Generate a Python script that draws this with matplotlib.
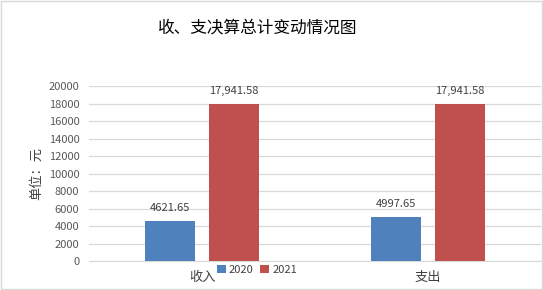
import numpy as np
import matplotlib
matplotlib.use('Agg')
import matplotlib.pyplot as plt
from matplotlib.patches import Rectangle

plt.rcParams['font.family'] = ['Noto Sans CJK SC', 'DejaVu Sans']

# data
categories = ['收入', '支出']
years = ['2020', '2021']
values_2020 = [4621.65, 4997.65]
values_2021 = [17941.58, 17941.58]
labels_2020 = ['4621.65', '4997.65']
labels_2021 = ['17,941.58', '17,941.58']
yticks = list(range(0, 20001, 2000))

fig = plt.figure(figsize=(5.43, 2.9), dpi=100)
ax = fig.add_axes([0.164, 0.1, 0.832, 0.603])

x = np.arange(len(categories))
w = 0.221
off = 0.1416
b1 = ax.bar(x - off, values_2020, w, color='#4F81BD', label=years[0], zorder=3)
b2 = ax.bar(x + off, values_2021, w, color='#C0504D', label=years[1], zorder=3)

for bars, labs in ((b1, labels_2020), (b2, labels_2021)):
    for b, lab in zip(bars, labs):
        ax.text(b.get_x() + b.get_width() / 2, b.get_height() + 900, lab,
                ha='center', va='bottom', fontsize=8, color='#404040')

ax.set_xlim(-0.5, 1.5)
ax.set_ylim(0, 20000)
ax.set_yticks(yticks)
ax.set_yticklabels([str(t) for t in yticks], fontsize=8, color='#595959')
ax.set_xticks(x)
ax.set_xticklabels(categories, fontsize=9.5, color='#404040')
ax.tick_params(axis='both', length=0)
ax.tick_params(axis='x', pad=7)
ax.tick_params(axis='y', pad=7)
ax.grid(axis='y', color='#D9D9D9', linewidth=0.9, zorder=0)
for s in ['top', 'right', 'left']:
    ax.spines[s].set_visible(False)
ax.spines['bottom'].set_color('#D9D9D9')

ax.set_ylabel('单位：元', fontsize=9.5, color='#404040', labelpad=4)

fig.text(0.474, 0.905, '收、支决算总计变动情况图', ha='center', va='center',
         fontsize=12, color='#000000')

ax.legend(loc='center', bbox_to_anchor=(0.372, -0.05), ncol=2, frameon=False,
          fontsize=8, handlelength=0.8, handleheight=0.8, handletextpad=0.3,
          columnspacing=0.6, labelcolor='#404040')

fig.patches.append(Rectangle((0.001, 0.002), 0.997, 0.995, transform=fig.transFigure,
                             fill=False, edgecolor='#D9D9D9', linewidth=1))

fig.savefig('out.png', dpi=100)
